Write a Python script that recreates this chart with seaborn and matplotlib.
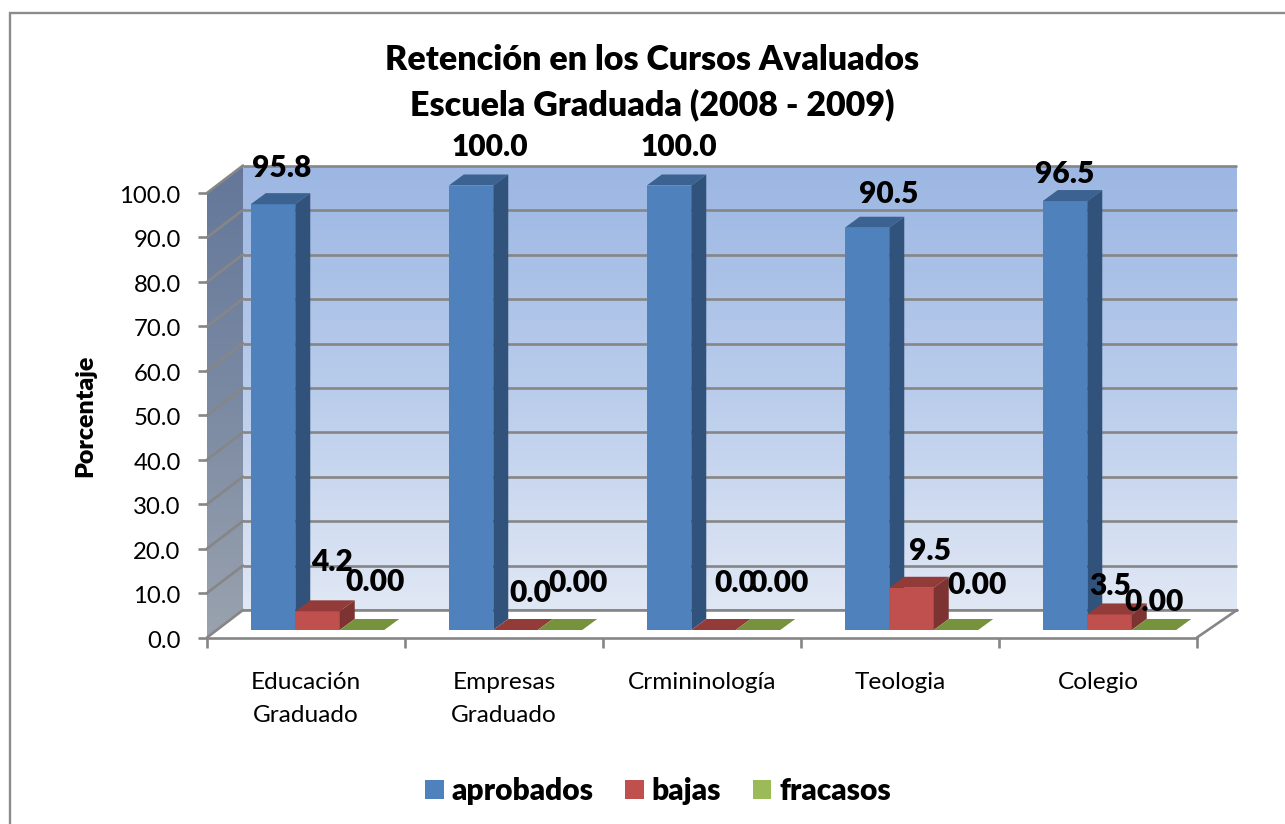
import numpy as np
import pandas as pd
import matplotlib
matplotlib.use("Agg")
import matplotlib.pyplot as plt
from matplotlib.patches import Polygon, Rectangle
from matplotlib.lines import Line2D
from matplotlib.colors import LinearSegmentedColormap
from matplotlib.transforms import Affine2D, IdentityTransform
import seaborn as sns

# ---- data ----
categories = ["Educación\nGraduado", "Empresas\nGraduado", "Crmininología", "Teologia", "Colegio"]
aprobados = [95.8, 100.0, 100.0, 90.5, 96.5]
bajas = [4.2, 0.0, 0.0, 9.5, 3.5]
fracasos = [0.0, 0.0, 0.0, 0.0, 0.0]
series_names = ["aprobados", "bajas", "fracasos"]
y_ticks = [0, 10, 20, 30, 40, 50, 60, 70, 80, 90, 100]
title_text = "Retención en los Cursos Avaluados\nEscuela Graduada (2008 - 2009)"
y_title = "Porcentaje"

# ---- style ----
W, H = 1285, 824
FONT = "Lato"
HEAVY = "heavy"
front = {"l": 207, "r": 1197, "b": 637.5, "t": 193}
back = {"l": 243, "r": 1237, "b": 610, "t": 166}
shift = (11.5, 7.5)          # bars stand this far inside the floor (pixels)
depth = (15, 11)             # bar depth (pixels)
face = ["#4F81BD", "#C0504D", "#9BBB59"]
side = ["#30527B", "#7C3331", "#64792F"]
top = ["#3B6290", "#933B39", "#76923C"]
grid_c = "#868686"
# label offsets in pixels relative to the top-centre of each unshifted bar
label_off = {
    "aprobados": [(20.5, 43.2), (30.5, 46.5), (21.5, 46.5), (33.5, 41.5), (11.5, 35)],
    "bajas": [(26, 56.5), (26, 45), (33, 55), (30, 44.5), (12, 35.5)],
    "fracasos": [(24.5, 55.5), (29.5, 54.5), (32.5, 54.5), (32.5, 52.5), (11.5, 35.5)],
}

sns.set_theme(style="white")
plt.rcParams["font.family"] = [FONT, "DejaVu Sans"]
plt.rcParams["text.color"] = "black"

fig = plt.figure(figsize=(W / 100, H / 100), dpi=100, facecolor="white")


def box(l, r, b, t):
    return [l / W, 1 - b / H, (r - l) / W, (b - t) / H]


# outer border of the chart area, running off the image on two sides
fig.add_artist(Rectangle((10 / W, -0.1), 1.2, 1.1 - 13.5 / H, transform=fig.transFigure,
                         fill=False, ec="#8C8C8C", lw=1.7))

# back wall
ax_back = fig.add_axes(box(back["l"], back["r"], back["b"], back["t"]), zorder=1)
wall = LinearSegmentedColormap.from_list("wall", ["#9CB7E3", "#B9CCEB", "#E1E8F5"])
ax_back.imshow(np.linspace(0, 1, 256)[:, None], cmap=wall, aspect="auto",
               extent=(0, 1, 0, 100), origin="upper", zorder=0)
ax_back.set_xlim(0, 1)
ax_back.set_ylim(0, 100)
ax_back.hlines(y_ticks, 0, 1, color=grid_c, lw=1.9, zorder=1, clip_on=False)
ax_back.axis("off")

# side wall
ax_side = fig.add_axes(box(front["l"], back["l"], front["b"], back["t"]), zorder=2)
sidec = LinearSegmentedColormap.from_list("sidewall", ["#64779A", "#7B8AA3", "#9AA2AE"])
im = ax_side.imshow(np.linspace(0, 1, 256)[:, None], cmap=sidec, aspect="auto",
                    extent=(0, 1, 0, 1), origin="upper", zorder=0)
ax_side.set_xlim(0, 1)
ax_side.set_ylim(0, 1)
ax_side.axis("off")
px = IdentityTransform()


def P(x, y):
    return (x, H - y)


clip = Polygon([P(front["l"], front["b"]), P(back["l"], back["b"]),
                P(back["l"], back["t"]), P(front["l"], front["t"])],
               transform=px, fc="none", ec="none")
ax_side.add_patch(clip)
im.set_clip_path(clip)

# front frame with the scales, and the bars
ax = fig.add_axes(box(front["l"], front["r"], front["b"], front["t"]), zorder=3)
ax.patch.set_visible(False)

# floor, drawn inside the front axes so it sits over the walls
ax.add_patch(Polygon([P(front["l"], front["b"]), P(back["l"], back["b"]),
                      P(back["r"], back["b"]), P(front["r"], front["b"])],
                     transform=px, fc="white", ec="none", clip_on=False, zorder=0.2))
ax.add_line(Line2D([back["l"], back["r"]], [H - back["b"], H - back["b"]],
                   transform=px, color=grid_c, lw=1.9, clip_on=False, zorder=0.4))
ax.add_line(Line2D([front["r"], back["r"]], [H - front["b"], H - back["b"]],
                   transform=px, color=grid_c, lw=1.9, clip_on=False, zorder=0.4))

df = pd.DataFrame({
    "categoria": categories * 3,
    "serie": sum([[s] * len(categories) for s in series_names], []),
    "valor": aprobados + bajas + fracasos,
})
sns.barplot(data=df, x="categoria", y="valor", hue="serie", order=categories,
            hue_order=series_names, palette=face, width=0.674, saturation=1,
            gap=0, legend=False, ax=ax, errorbar=None)
ax.set_xlim(-0.5, len(categories) - 0.5)
ax.set_ylim(0, 100)

# diagonal gridlines on the side wall
for v in y_ticks:
    yf = ax.transData.transform((0, v))[1]
    yb = yf + (front["b"] - back["b"])
    ax.add_line(Line2D([front["l"], back["l"]], [yf, yb], transform=px, color=grid_c,
                       lw=1.9, clip_on=False, zorder=0.5))

# bars: push back onto the floor and add depth faces
move = ax.transData + Affine2D().translate(*shift)
bars = [p for p in ax.patches if isinstance(p, Rectangle)]
n = len(categories)
for i, b in enumerate(bars):
    s = i // n
    x0, x1 = b.get_x(), b.get_x() + b.get_width()
    h = b.get_height()
    b.set_transform(move)
    b.set_edgecolor("none")
    b.set_clip_on(False)
    b.set_zorder(3 + 0.1 * i)
    (xa, ya), (xb, yb) = move.transform([(x0, 0), (x1, h)])
    dx, dy = depth
    ax.add_patch(Polygon([(xa, yb), (xb, yb), (xb + dx, yb + dy), (xa + dx, yb + dy)],
                         transform=px, fc=top[s], ec="none", clip_on=False, zorder=3 + 0.1 * i))
    if h > 0:
        ax.add_patch(Polygon([(xb, ya), (xb + dx, ya + dy), (xb + dx, yb + dy), (xb, yb)],
                             transform=px, fc=side[s], ec="none", clip_on=False, zorder=3 + 0.1 * i))
    fmt = "{:.2f}" if series_names[s] == "fracasos" else "{:.1f}"
    ax.annotate(fmt.format(h), xy=((x0 + x1) / 2, h), xycoords="data",
                xytext=label_off[series_names[s]][i % n], textcoords="offset pixels",
                ha="center", va="center", fontsize=21.5, fontweight=HEAVY,
                color="black", annotation_clip=False, zorder=20)

# axes appearance
for k in ("top", "right", "left"):
    ax.spines[k].set_visible(False)
ax.spines["bottom"].set_color(grid_c)
ax.spines["bottom"].set_linewidth(1.9)
ax.set_yticks(y_ticks)
ax.set_yticklabels([f"{v:.1f}" for v in y_ticks], fontsize=17.2, color="black")
ax.set_xticks(np.arange(n + 1) - 0.5, minor=True)
ax.tick_params(axis="x", which="minor", length=7.5, width=1.9, color=grid_c, bottom=True)
ax.tick_params(axis="x", which="major", length=0, pad=24.7)
ax.tick_params(axis="y", length=6.5, width=1.9, color=grid_c, left=True, pad=12.4)
ax.set_xticks(range(n))
ax.set_xticklabels(categories, fontsize=17.6, color="black", linespacing=1.7, va="top")
for lbl in ax.get_yticklabels():
    lbl.set_transform(lbl.get_transform() + Affine2D().translate(0, -1.5))
ax.set_xlabel("")
ax.set_ylabel("")
fig.text(85 / W, 1 - 416 / H, y_title, rotation=90, ha="center", va="center",
         fontsize=18, fontweight=HEAVY, color="black")

fig.text(652 / W, 1 - 83 / H, title_text, ha="center", va="center", fontsize=24.5,
         fontweight=HEAVY, color="black", linespacing=1.47)

handles = [Rectangle((0, 0), 1, 1, fc=c, ec="none") for c in face]
fig.legend(handles, series_names, loc="center", bbox_to_anchor=(658 / W, 1 - 791 / H),
           ncol=3, frameon=False, labelcolor="black",
           prop={"family": FONT, "weight": HEAVY, "size": 21.5},
           handlelength=0.62, handleheight=0.62, handletextpad=0.27, columnspacing=1.05)

fig.savefig("out.png", dpi=100, facecolor="white")
